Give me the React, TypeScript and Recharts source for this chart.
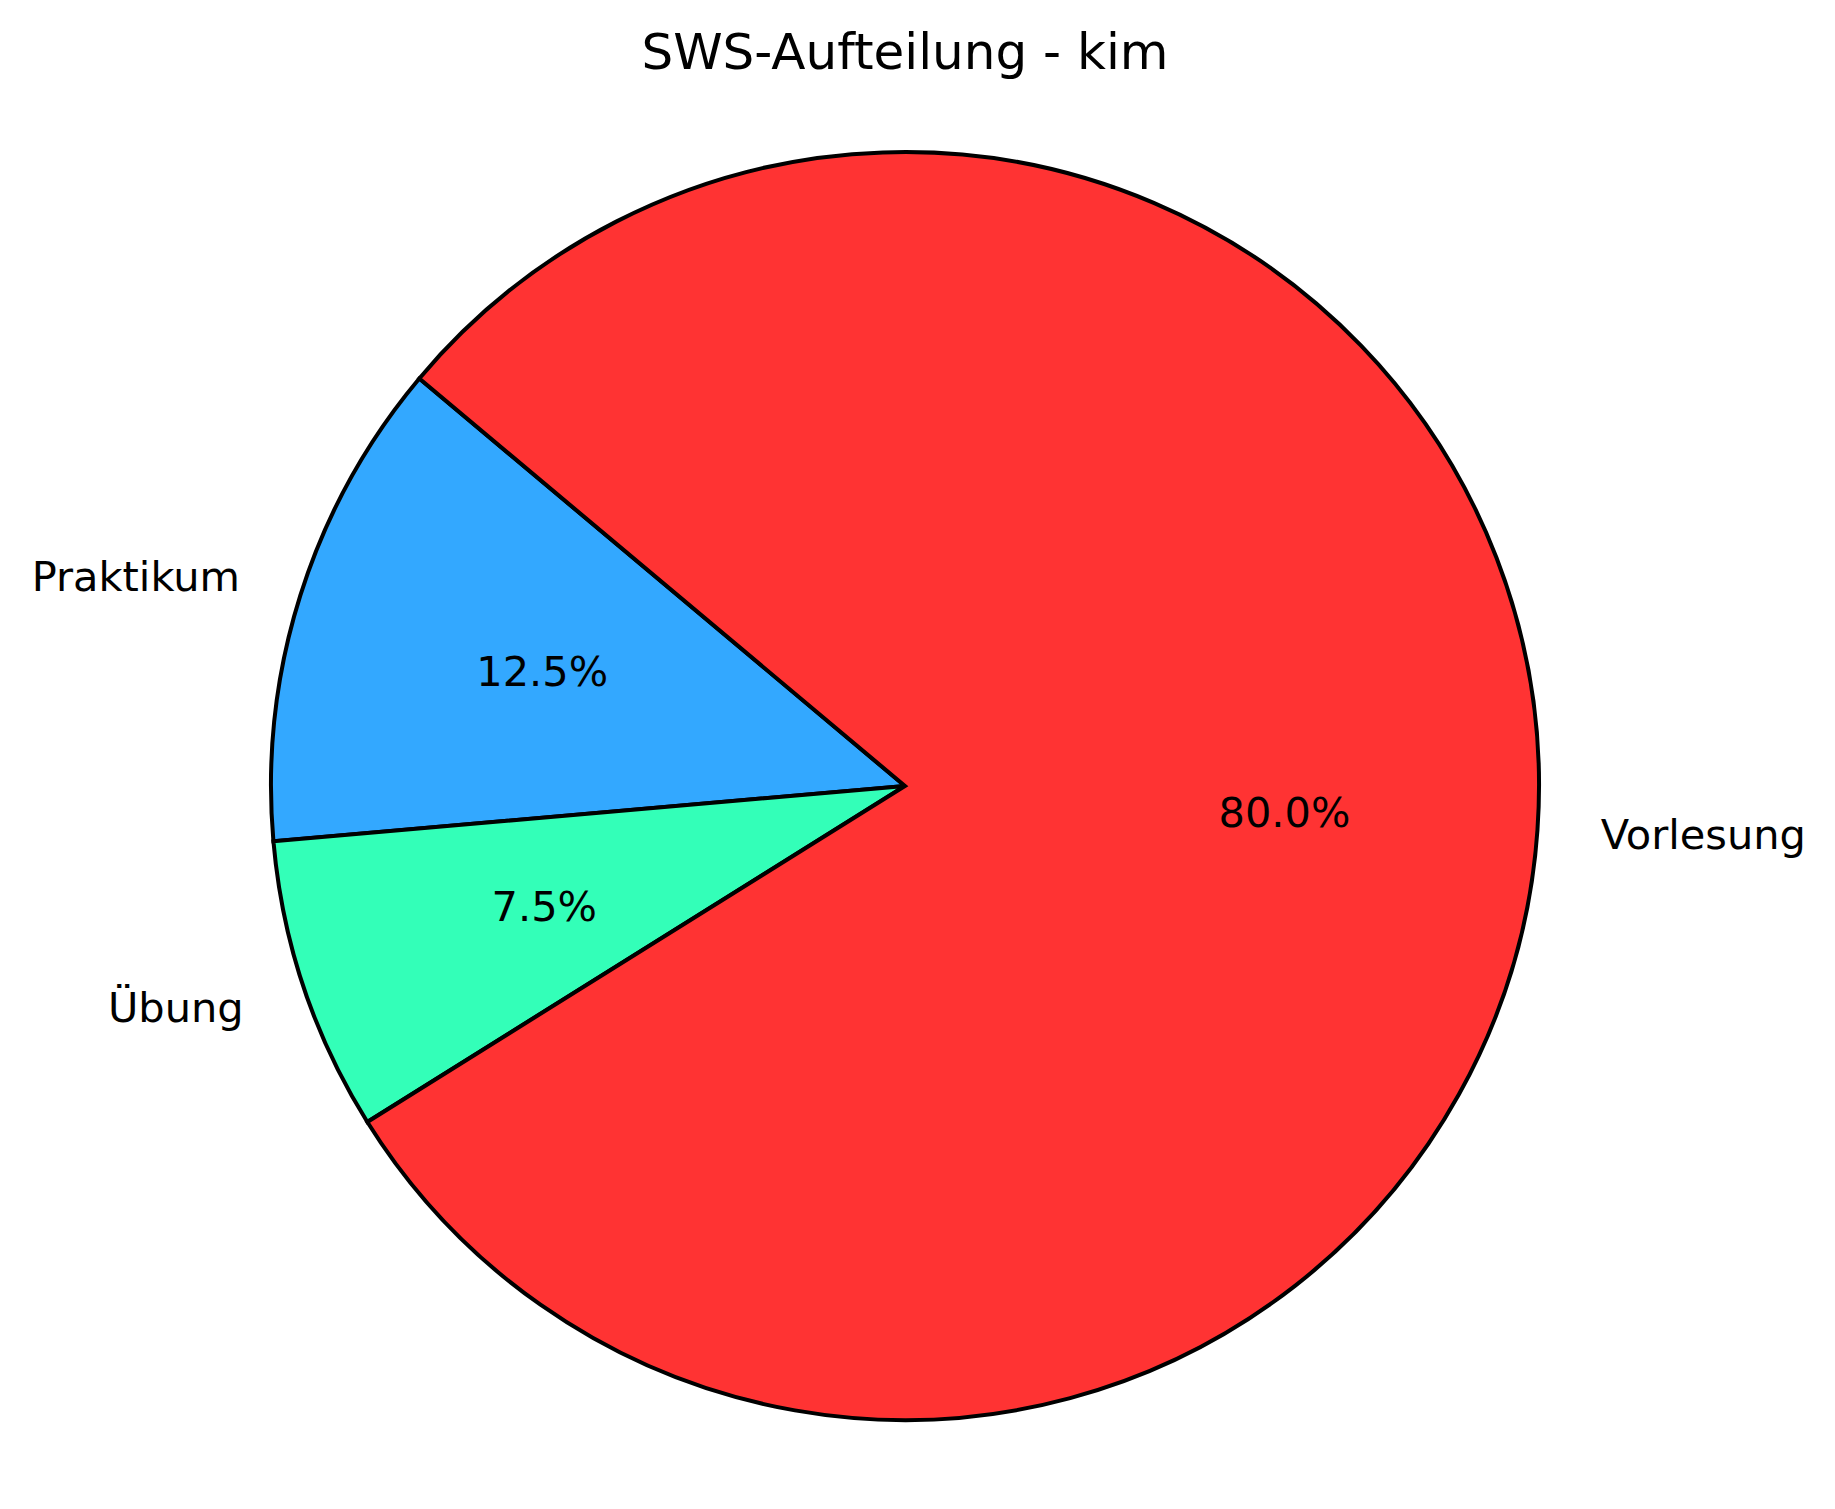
import React from 'react'
import { PieChart, Pie, Cell } from 'recharts'

const categories = ['Praktikum', 'Übung', 'Vorlesung']
const swsValues = [5, 3, 32]
const sliceColors = ['#33A8FF', '#33FFB8', '#FF3333']

const pieData = categories.map((name, i) => ({ name, value: swsValues[i] }))

const RAD = Math.PI / 180
const FONT = '"DejaVu Sans", sans-serif'

const renderLabel = (props: any) => {
  const { cx, cy, midAngle, outerRadius, percent, name } = props
  const cos = Math.cos(-midAngle * RAD)
  const sin = Math.sin(-midAngle * RAD)
  // outside label at 1.1r, percentage at 0.6r (matplotlib style)
  const lx = cx + outerRadius * 1.1 * cos
  const ly = cy + outerRadius * 1.1 * sin
  const px = cx + outerRadius * 0.6 * cos
  const py = cy + outerRadius * 0.6 * sin
  return (
    <g>
      <text
        x={lx}
        y={ly}
        fill="#000"
        fontSize={41.5}
        fontFamily={FONT}
        textAnchor={lx > cx ? 'start' : 'end'}
        dominantBaseline="central"
      >
        {name}
      </text>
      <text
        x={px}
        y={py}
        fill="#000"
        fontSize={41.5}
        fontFamily={FONT}
        textAnchor="middle"
        dominantBaseline="central"
      >
        {(percent * 100).toFixed(1)}%
      </text>
    </g>
  )
}

const App: React.FC = () => {
  return (
    <div style={{ position: 'absolute', left: 0, top: 0, width: 1835, height: 1509, background: '#fff' }}>
      <PieChart width={1835} height={1509} margin={{ top: 0, right: 0, bottom: 0, left: 0 }}>
        <text
          x={905}
          y={52}
          fill="#000"
          fontSize={50}
          fontFamily={FONT}
          textAnchor="middle"
          dominantBaseline="central"
        >
          SWS-Aufteilung - kim
        </text>
        <Pie
          data={pieData}
          dataKey="value"
          nameKey="name"
          cx={905}
          cy={786}
          outerRadius={634}
          startAngle={140}
          endAngle={500}
          stroke="#000"
          strokeWidth={4}
          label={renderLabel}
          labelLine={false}
          isAnimationActive={false}
        >
          {pieData.map((d, i) => (
            <Cell key={d.name} fill={sliceColors[i]} />
          ))}
        </Pie>
      </PieChart>
    </div>
  )
}

export default App
